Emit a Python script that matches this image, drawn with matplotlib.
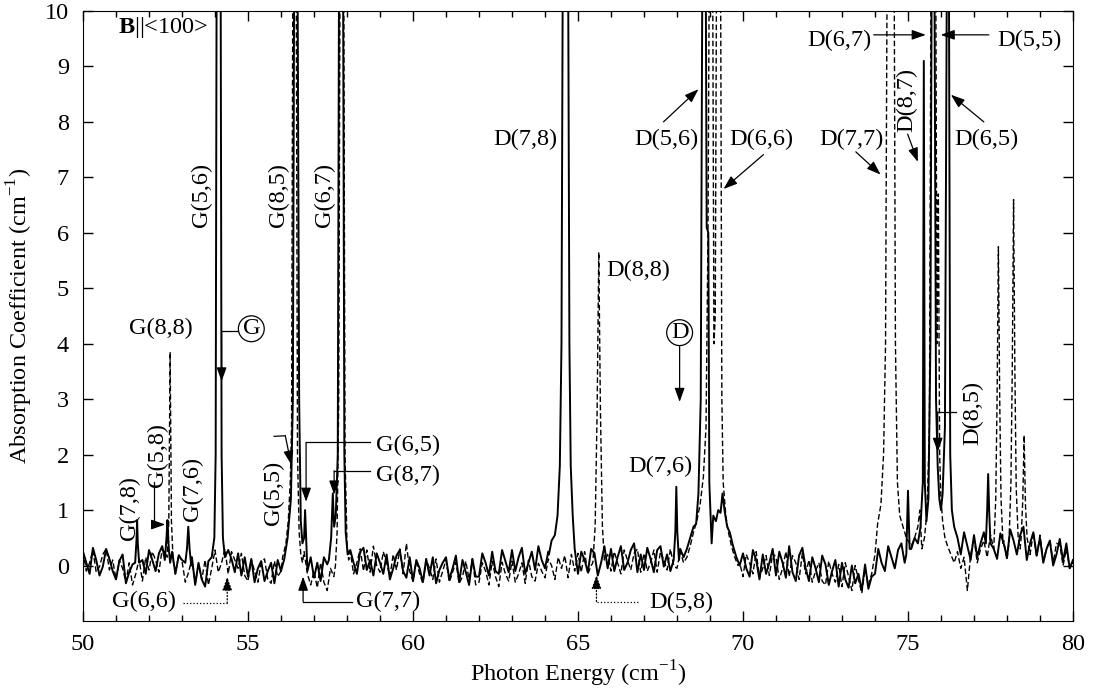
import numpy as np
import matplotlib
matplotlib.use('Agg')
from matplotlib import pyplot as plt
from matplotlib.ticker import MultipleLocator

plt.rcParams['font.family'] = ['Liberation Serif', 'DejaVu Serif']
plt.rcParams['mathtext.fontset'] = 'custom'
plt.rcParams['mathtext.rm'] = 'Liberation Serif'
plt.rcParams['mathtext.bf'] = 'Liberation Serif:bold'
plt.rcParams['font.size'] = 17.5

# Baseline every 0.1 cm-1 (50.0 ... 80.0)
base_x = np.round(np.arange(500, 801) * 0.1, 1)

solid_base = [
    0.25, 0.05, -0.15, 0.32, 0.10, -0.18, -0.02, 0.30, 0.12, -0.10,
    -0.25, 0.08, 0.20, -0.32, -0.12, 0.02, -0.35, -0.20, 0.10, -0.15,
    0.28, 0.10, -0.10, 0.22, 0.35, -0.08, 0.05, 0.25, -0.15, 0.18,
    0.10, -0.30, -0.12, 0.15, -0.35, 0.05, -0.25, -0.38, 0.08, -0.05,
    0.25, 0.02, 0.30, -0.10, 0.28, 0.12, -0.12, 0.22, -0.18, 0.15,
    -0.20, 0.12, -0.30, -0.05, 0.08, -0.28, -0.10, 0.05, -0.32, 0.10,
    -0.10, 0.12, 0.25, 0.05, 0.30, 0.45, 0.30, 0.15, -0.10, 0.15,
    -0.22, 0.05, -0.28, 0.15, 0.02, -0.25, 0.18, -0.22, 0.20, -0.10,
    -0.12, 0.28, 0.05, -0.15, 0.25, 0.32, -0.08, 0.10, -0.18, 0.22,
    0.05, -0.15, 0.20, -0.25, -0.05, 0.18, 0.28, -0.10, -0.22, 0.15,
    -0.28, 0.10, -0.05, -0.30, 0.12, -0.18, 0.15, -0.32, -0.08, 0.05,
    0.15, -0.25, -0.05, 0.18, -0.30, 0.10, -0.12, -0.35, 0.12, -0.20,
    -0.20, 0.22, 0.05, -0.18, 0.25, -0.10, -0.15, 0.28, 0.08, -0.12,
    0.28, -0.10, 0.15, 0.32, -0.15, 0.05, 0.25, -0.08, 0.35, 0.10,
    -0.05, 0.25, 0.20, 0.30, 0.40, 0.50, 0.50, 0.40, 0.30, 0.15,
    -0.15, 0.25, 0.10, -0.12, 0.30, 0.22, -0.18, 0.05, 0.35, -0.05,
    0.30, -0.10, 0.15, 0.35, -0.08, 0.05, 0.28, 0.40, -0.12, 0.20,
    -0.08, 0.32, 0.12, -0.12, 0.28, 0.35, -0.02, 0.20, -0.10, 0.25,
    0.00, 0.30, 0.15, 0.35, 0.40, 0.45, 0.60, 0.70, 0.80, 0.90,
    0.80, 0.90, 0.95, 1.00, 1.10, 0.90, 0.70, 0.50, 0.30, 0.10,
    0.22, -0.05, -0.20, 0.28, 0.10, -0.25, 0.20, -0.15, 0.05, 0.30,
    -0.18, 0.25, 0.05, -0.22, 0.35, -0.12, -0.28, 0.18, 0.32, -0.05,
    -0.28, 0.15, -0.05, -0.30, 0.18, 0.02, -0.35, -0.10, 0.10, -0.38,
    0.05, -0.25, -0.40, 0.00, -0.32, -0.15, -0.45, 0.02, -0.42, -0.20,
    -0.15, 0.30, 0.05, -0.10, 0.35, 0.15, -0.05, 0.28, 0.40, 0.05,
    0.30, 0.20, 0.45, 0.40, 0.60, 0.70, 0.90, 1.00, 1.10, 1.00,
    0.90, 0.80, 0.70, 0.60, 0.50, 0.45, 0.20, 0.60, 0.35, 0.10,
    0.55, 0.15, 0.40, 0.60, 0.10, 0.65, 0.30, 0.12, 0.58, 0.40,
    0.15, 0.65, 0.45, 0.20, 0.55, 0.70, 0.10, 0.40, 0.60, 0.18,
    0.50, 0.05, 0.30, 0.45, 0.00, 0.20, 0.48, 0.08, 0.40, -0.05,
    0.10,
]

dashed_base = [
    0.25, -0.10, 0.05, 0.28, -0.12, -0.02, 0.20, 0.30, -0.08, 0.10,
    -0.25, 0.10, -0.05, -0.30, 0.05, -0.35, -0.15, 0.12, -0.28, 0.15,
    -0.08, 0.25, 0.10, -0.12, 0.30, 0.22, -0.10, 0.28, -0.15, 0.20,
    0.08, -0.30, -0.12, 0.12, -0.32, 0.02, -0.25, 0.10, -0.35, -0.05,
    0.28, -0.12, 0.05, 0.30, -0.15, 0.25, 0.10, -0.05, 0.22, -0.18,
    -0.28, 0.10, -0.10, -0.30, 0.05, 0.12, -0.25, -0.32, 0.08, -0.20,
    -0.10, 0.12, 0.15, 0.20, 0.30, 0.40, 0.30, 0.05, -0.15, -0.35,
    -0.10, -0.40, 0.05, -0.30, -0.45, -0.05, -0.20, 0.00, 0.10, 0.05,
    0.10, 0.25, -0.15, 0.05, 0.30, -0.10, 0.28, -0.12, 0.35, 0.00,
    -0.12, 0.25, 0.05, -0.20, 0.20, -0.08, 0.30, -0.15, 0.40, -0.10,
    -0.28, 0.08, -0.15, -0.32, 0.10, -0.05, -0.25, 0.12, -0.30, -0.10,
    0.10, -0.30, -0.12, 0.06, -0.32, -0.20, 0.08, -0.25, 0.12, -0.35,
    -0.30, 0.05, -0.10, -0.35, 0.08, -0.20, -0.38, 0.06, -0.15, -0.28,
    0.08, -0.30, -0.15, 0.05, -0.32, 0.10, -0.20, -0.28, 0.04, -0.10,
    -0.22, 0.12, 0.00, -0.25, 0.15, -0.05, 0.18, -0.22, 0.20, -0.10,
    0.22, -0.12, 0.25, -0.15, 0.00, 0.10, 0.10, 0.10, 0.05, 0.20,
    -0.10, 0.25, 0.05, -0.15, 0.28, 0.10, -0.08, 0.22, 0.30, -0.12,
    0.22, -0.10, 0.05, 0.28, -0.12, 0.25, 0.10, -0.08, 0.30, 0.00,
    -0.05, 0.25, 0.05, 0.20, 0.30, 0.40, 0.50, 0.60, 0.80, 1.00,
    1.00, 1.00, 1.00, 1.00, 0.90, 0.70, 0.50, 0.30, 0.15, 0.05,
    -0.20, 0.20, 0.05, -0.15, 0.25, -0.22, -0.05, 0.18, -0.18, 0.22,
    0.15, -0.25, -0.05, 0.25, -0.20, 0.18, 0.05, -0.25, 0.22, -0.15,
    0.10, -0.30, -0.10, 0.05, -0.28, -0.35, 0.08, -0.15, -0.30, 0.02,
    -0.38, 0.05, -0.20, -0.45, 0.00, -0.25, -0.50, -0.05, -0.35, -0.15,
    0.20, 0.50, 0.80, 1.00, 1.00, 1.00, 0.80, 0.70, 0.60, 0.50,
    0.45, 0.35, 0.50, 0.70, 0.30, 0.50, 0.80, 1.00, 1.00, 0.80,
    0.30, 0.20, 0.10, 0.20, 0.05, 0.25, -0.05, 0.15, -0.45, 0.20,
    0.50, 0.05, 0.30, 0.45, 0.15, 0.55, 0.30, 0.30, 0.30, 0.45,
    0.10, 0.60, 0.30, 0.30, 0.30, 0.30, 0.30, 0.20, 0.60, 0.15,
    0.55, 0.10, 0.30, 0.45, 0.05, 0.40, 0.38, 0.00, 0.30, -0.05,
    0.05,
]

# Lines as (energy, absorption) points; 11 = off scale
solid_peaks = [
    [(51.58, 0.05), (51.62, 0.45), (51.64, 0.82), (51.66, 0.4), (51.70, 0.05)],
    [(52.48, 0.10), (52.53, 0.5), (52.56, 0.82), (52.60, 0.3), (52.64, 0.05)],
    [(53.10, 0.05), (53.15, 0.3), (53.19, 0.70), (53.23, 0.3), (53.28, 0.0)],
    [(53.90, 0.15), (53.98, 0.5), (54.02, 2.0), (54.05, 11), (54.17, 11),
     (54.20, 2.0), (54.24, 0.5), (54.30, 0.15)],
    [(56.20, 0.5), (56.30, 1.2), (56.36, 3.0), (56.40, 11), (56.50, 11),
     (56.55, 3.0), (56.60, 0.8), (56.65, 0.4), (56.70, 0.5), (56.73, 1.0),
     (56.78, 0.2)],
    [(57.45, 0.1), (57.52, 0.5), (57.57, 1.3), (57.61, 0.7), (57.66, 0.9),
     (57.72, 2.0), (57.76, 11), (57.88, 11), (57.92, 2.0), (57.96, 0.6),
     (58.02, 0.2)],
    [(64.12, 0.2), (64.20, 0.45), (64.30, 0.55), (64.38, 0.9), (64.45, 1.8),
     (64.50, 4.0), (64.54, 11), (64.70, 11), (64.74, 4.0), (64.78, 1.8),
     (64.84, 0.9), (64.90, 0.3)],
    [(67.90, 0.1), (67.95, 0.6), (67.98, 1.42), (68.01, 0.6), (68.06, 0.1)],
    [(68.30, 0.3), (68.40, 0.5), (68.50, 0.7), (68.58, 0.75), (68.65, 1.3),
     (68.72, 3.0), (68.77, 11), (68.87, 11), (68.90, 6.1), (68.95, 6.0),
     (68.98, 1.5), (69.05, 0.4), (69.10, 0.9), (69.18, 0.8), (69.25, 1.0),
     (69.32, 0.95), (69.38, 1.3), (69.44, 1.0), (69.52, 0.7), (69.60, 0.6),
     (69.70, 0.35), (69.80, 0.15), (69.90, 0.0)],
    [(74.95, 0.2), (75.00, 1.35), (75.05, 0.3)],
    [(75.10, 0.3), (75.20, 0.5), (75.30, 0.4), (75.38, 0.7), (75.45, 1.5),
     (75.48, 9.1), (75.51, 1.5), (75.56, 0.8), (75.62, 1.2), (75.68, 4.0),
     (75.72, 11), (75.80, 11), (75.85, 3.0), (75.90, 1.8), (75.95, 1.2),
     (76.00, 1.0), (76.05, 1.3), (76.12, 2.5), (76.18, 11), (76.24, 11),
     (76.28, 2.0), (76.33, 1.0), (76.40, 0.7), (76.50, 0.5)],
    [(77.36, 0.4), (77.40, 1.0), (77.43, 1.65), (77.46, 1.0), (77.50, 0.4)],
]

dashed_peaks = [
    [(52.55, 0.15), (52.60, 0.8), (52.64, 3.85), (52.68, 0.8), (52.73, 0.1)],
    [(56.05, 0.15), (56.15, 0.4), (56.22, 0.8), (56.28, 1.5), (56.32, 2.5),
     (56.36, 11), (56.46, 11), (56.50, 2.0), (56.55, 0.6), (56.60, 0.2),
     (56.65, 0.05), (56.70, 0.25), (56.75, 0.05), (56.80, -0.15)],
    [(57.65, 0.0), (57.70, 0.6), (57.75, 3.0), (57.79, 11), (57.90, 11),
     (57.94, 2.0), (58.00, 0.4), (58.05, 0.1)],
    [(65.45, 0.05), (65.52, 0.7), (65.58, 2.8), (65.63, 5.65), (65.68, 2.8),
     (65.74, 0.7), (65.80, 0.1)],
    [(68.30, 0.15), (68.40, 0.35), (68.50, 0.6), (68.60, 0.8), (68.70, 1.1),
     (68.80, 1.6), (68.88, 2.5), (68.94, 6.0), (68.98, 11), (69.08, 11),
     (69.12, 4.0), (69.16, 4.5), (69.20, 11), (69.32, 11), (69.36, 3.0),
     (69.40, 1.5), (69.48, 0.9), (69.56, 0.6), (69.65, 0.35), (69.75, 0.15),
     (69.85, 0.0)],
    [(74.00, 0.2), (74.08, 0.75), (74.18, 1.1), (74.26, 2.0), (74.32, 4.0),
     (74.37, 11), (74.58, 11), (74.62, 4.0), (74.68, 1.5), (74.75, 0.9),
     (74.85, 0.7), (74.95, 0.5)],
    [(75.20, 0.5), (75.30, 0.7), (75.36, 1.0), (75.42, 0.3), (75.50, 0.5),
     (75.58, 1.0), (75.65, 2.5), (75.70, 11), (75.84, 11), (75.88, 4.0),
     (75.92, 6.7), (75.96, 2.0), (76.00, 1.2), (76.05, 0.8), (76.12, 0.5),
     (76.20, 0.35), (76.30, 0.2)],
    [(77.60, 0.3), (77.66, 1.2), (77.70, 3.0), (77.74, 5.75), (77.78, 3.0),
     (77.82, 1.2), (77.88, 0.4)],
    [(78.06, 0.4), (78.12, 1.5), (78.16, 3.5), (78.20, 6.6), (78.24, 3.5),
     (78.28, 1.4), (78.34, 0.5)],
    [(78.43, 0.5), (78.48, 1.2), (78.52, 2.35), (78.56, 1.1), (78.61, 0.5)],
]


def merge(bx, by, peaks):
    pts = list(zip(bx, by))
    for pk in peaks:
        lo, hi = pk[0][0], pk[-1][0]
        pts = [p for p in pts if p[0] < lo or p[0] > hi] + list(pk)
    pts.sort()
    x, y = zip(*pts)
    return np.array(x), np.array(y)


sx, sy = merge(base_x, solid_base, solid_peaks)
dx, dy = merge(base_x, dashed_base, dashed_peaks)

fig = plt.figure(figsize=(10.98, 6.92), dpi=100)
ax = fig.add_axes([0.0756, 0.1026, 0.9016, 0.8815])

ax.plot(dx, dy, color='black', lw=1.0, ls=(0, (4, 2)))
ax.plot(sx, sy, color='black', lw=1.4)

ax.set_xlim(50, 80)
ax.set_ylim(-1, 10)
ax.set_xticks(range(50, 81, 5))
ax.xaxis.set_minor_locator(MultipleLocator(1))
ax.set_yticks(range(0, 11))
ax.tick_params(which='both', direction='in', top=True, right=True)
ax.tick_params(which='major', length=7, width=1)
ax.tick_params(which='minor', length=4, width=1)
ax.tick_params(axis='y', pad=10)
ax.tick_params(axis='x', pad=9)
ax.set_xlabel('Photon Energy (cm$^{-1}$)', labelpad=3)
ax.set_ylabel('Absorption Coefficient (cm$^{-1}$)', labelpad=7)

ax.text(51.06, 9.71, r'$\mathbf{B}$||<100>', ha='left', va='center')

# plain labels: (text, x, y, rotation)
labels = [
    ('G(5,6)', 53.58, 6.68, 90), ('G(8,5)', 55.91, 6.68, 90),
    ('G(6,7)', 57.31, 6.68, 90), ('D(7,8)', 63.41, 7.69, 0),
    ('G(8,8)', 52.37, 4.27, 0), ('G(7,8)', 51.40, 1.03, 90),
    ('G(5,8)', 52.25, 2.00, 90), ('G(7,6)', 53.31, 1.39, 90),
    ('G(5,5)', 55.76, 1.31, 90), ('D(8,8)', 66.83, 5.33, 0),
    ('D(7,6)', 67.50, 1.78, 0), ('D(8,5)', 76.96, 2.76, 90),
    ('D(8,7)', 74.96, 8.40, 90), ('D(5,6)', 67.68, 7.69, 0),
    ('D(6,6)', 70.56, 7.69, 0), ('D(7,7)', 73.29, 7.69, 0),
    ('D(6,5)', 77.39, 7.69, 0), ('D(6,7)', 72.93, 9.46, 0),
    ('D(5,5)', 78.69, 9.46, 0), ('G(6,5)', 59.86, 2.16, 0),
    ('G(8,7)', 59.86, 1.62, 0), ('G(7,7)', 59.25, -0.65, 0),
    ('G(6,6)', 51.85, -0.65, 0), ('D(5,8)', 68.14, -0.67, 0),
]
for s, x, y, rot in labels:
    ax.text(x, y, s, rotation=rot, ha='center', va='center')

for s, x, y in [('G', 55.10, 4.27), ('D', 68.08, 4.20)]:
    ax.text(x, y, s, ha='center', va='center',
            bbox=dict(boxstyle='circle,pad=0.1', fc='white', ec='black', lw=0.9))

arrow = dict(arrowstyle='-|>,head_length=0.7,head_width=0.25', color='black',
             lw=0.9, shrinkA=0, shrinkB=0, mutation_scale=12)

# connectors: path points (last segment carries the arrow head), line style
paths = [
    ([(67.59, 8.00), (68.65, 8.59)], '-'),
    ([(70.62, 7.41), (69.41, 6.79)], '-'),
    ([(73.42, 7.46), (74.17, 7.05)], '-'),
    ([(77.30, 8.00), (76.30, 8.49)], '-'),
    ([(73.96, 9.57), (75.54, 9.57)], '-'),
    ([(77.45, 9.57), (75.99, 9.57)], '-'),
    ([(74.99, 7.78), (75.30, 7.28)], '-'),
    ([(55.79, 2.33), (56.13, 2.34), (56.31, 1.82)], '-'),
    ([(52.15, 1.51), (52.15, 0.74), (52.49, 0.74)], '-'),
    ([(54.70, 4.23), (54.20, 4.23), (54.20, 3.32)], '-'),
    ([(58.70, 2.22), (56.76, 2.22), (56.76, 1.15)], '-'),
    ([(58.70, 1.71), (57.61, 1.71), (57.61, 1.28)], '-'),
    ([(58.16, -0.65), (56.67, -0.65), (56.67, -0.20)], '-'),
    ([(53.03, -0.68), (54.37, -0.68), (54.37, -0.20)], ':'),
    ([(66.83, -0.65), (65.56, -0.65), (65.56, -0.17)], ':'),
    ([(76.45, 2.77), (75.90, 2.77), (75.90, 2.05)], '-'),
    ([(68.08, 3.95), (68.08, 2.95)], '-'),
]
for pts, ls in paths:
    if len(pts) > 2:
        px, py = zip(*pts[:-1])
        ax.plot(px, py, color='black', lw=0.9, ls=ls)
    ax.annotate('', xy=pts[-1], xytext=pts[-2],
                arrowprops=dict(arrow, linestyle=ls))

fig.savefig('out.png', dpi=100)
